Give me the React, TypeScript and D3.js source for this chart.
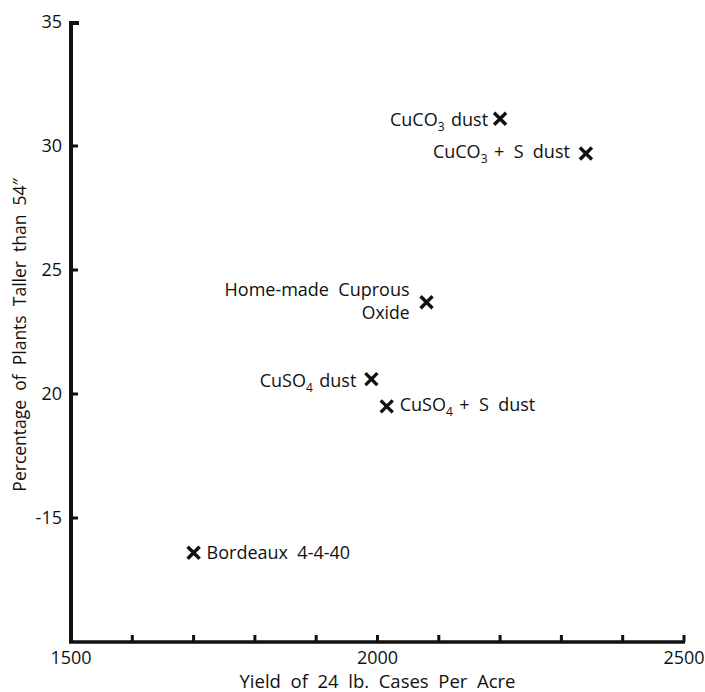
import React from 'react';
import { scaleLinear } from 'd3';

// treatments, yield (24 lb cases / acre) and % of plants taller than 54"
const treatments = [
  'CuCO_3 dust',
  'CuCO_3 +  S  dust',
  'Home-made  Cuprous|Oxide',
  'CuSO_4 dust',
  'CuSO_4 +  S  dust',
  'Bordeaux  4-4-40',
];
const yields = [2200, 2340, 2080, 1990, 2015, 1700];
const percentTaller = [31.1, 29.7, 23.7, 20.6, 19.5, 13.6];

const yTicks = [35, 30, 25, 20, 15];
const yTickLabels = ['35', '30', '25', '20', '-15'];
const xTicks = [1500, 1600, 1700, 1800, 1900, 2000, 2100, 2200, 2300, 2400, 2500];
const xTickLabels = [1500, 2000, 2500];

// where each label sits relative to its cross: side, dx, dy
const labelPlace = [
  { side: 'left', dx: -12, dy: 7 },
  { side: 'left', dx: -16, dy: 5 },
  { side: 'left', dx: -17, dy: -6 },
  { side: 'left', dx: -15, dy: 8 },
  { side: 'right', dx: 13, dy: 5 },
  { side: 'right', dx: 13, dy: 6 },
];

const font = '"Open Sans", "DejaVu Sans", sans-serif';

// turns "CuCO_3 dust" into tspans with a lowered small 3
const renderLine = (s: string) => {
  const parts = s.split(/(_\d)/);
  return parts.map((p, i) => {
    if (p.startsWith('_')) {
      return (
        <React.Fragment key={i}>
          <tspan dy={5} fontSize={12}>{p.slice(1)}</tspan>
          <tspan dy={-5}>{'\u200a'}</tspan>
        </React.Fragment>
      );
    }
    return <tspan key={i}>{p}</tspan>;
  });
};

const Cross = ({ x, y }: { x: number; y: number }) => {
  const r = 6;
  return (
    <path
      d={`M${x - r},${y - r}L${x + r},${y + r}M${x - r},${y + r}L${x + r},${y - r}`}
      stroke="#111"
      strokeWidth={3.4}
      fill="none"
    />
  );
};

export default function App() {
  const width = 705;
  const height = 692;

  const x = scaleLinear().domain([1500, 2500]).range([71, 684]);
  const y = scaleLinear().domain([10, 35]).range([642, 22]);

  return (
    <svg
      width={width}
      height={height}
      style={{ position: 'absolute', left: 0, top: 0, background: '#fff' }}
      fontFamily={font}
    >
      <rect width={width} height={height} fill="#fff" />

      {/* y axis */}
      <line x1={x(1500)} x2={x(1500)} y1={y(35) - 1} y2={y(10) + 1} stroke="#111" strokeWidth={4} />
      <line x1={x(1500)} x2={x(1500) + 8} y1={y(35) + 1} y2={y(35) + 1} stroke="#111" strokeWidth={4} />
      {yTicks.slice(1).map((t) => (
        <line key={t} x1={x(1500)} x2={x(1500) + 7} y1={y(t)} y2={y(t)} stroke="#111" strokeWidth={3} />
      ))}
      {yTicks.map((t, i) => (
        <text key={t} x={x(1500) - 9} y={y(t) + 6} textAnchor="end" fontSize={18} fill="#111">
          {yTickLabels[i]}
        </text>
      ))}

      {/* x axis */}
      <line x1={x(1500) - 2} x2={x(2500) + 1} y1={y(10)} y2={y(10)} stroke="#111" strokeWidth={3.5} />
      {xTicks.slice(1).map((t) => (
        <line key={t} x1={x(t)} x2={x(t)} y1={y(10)} y2={y(10) - 7} stroke="#111" strokeWidth={3} />
      ))}
      {xTickLabels.map((t) => (
        <text key={t} x={x(t)} y={y(10) + 22} textAnchor="middle" fontSize={18} fill="#111">
          {t}
        </text>
      ))}

      <text x={x(2000)} y={688} textAnchor="middle" fontSize={18.5} fill="#111" style={{ whiteSpace: 'pre' }}>
        {'Yield  of  24  lb.  Cases  Per  Acre'}
      </text>

      <text
        transform={`translate(26, 335) rotate(-90)`}
        textAnchor="middle"
        fontSize={17.5}
        fill="#111"
        style={{ whiteSpace: 'pre' }}
      >
        {'Percentage  of  Plants  Taller  than  54\u2033'}
      </text>

      {/* points */}
      {treatments.map((name, i) => {
        const cx = x(yields[i]);
        const cy = y(percentTaller[i]);
        const pl = labelPlace[i];
        const lines = name.split('|');
        return (
          <g key={name}>
            <Cross x={cx} y={cy} />
            {lines.map((ln, j) => (
              <text
                key={j}
                x={cx + pl.dx}
                y={cy + pl.dy + j * 23}
                textAnchor={pl.side === 'left' ? 'end' : 'start'}
                fontSize={j > 0 ? 17.5 : 18}
                fill="#111"
                style={{ whiteSpace: 'pre' }}
              >
                {renderLine(ln)}
              </text>
            ))}
          </g>
        );
      })}
    </svg>
  );
}
